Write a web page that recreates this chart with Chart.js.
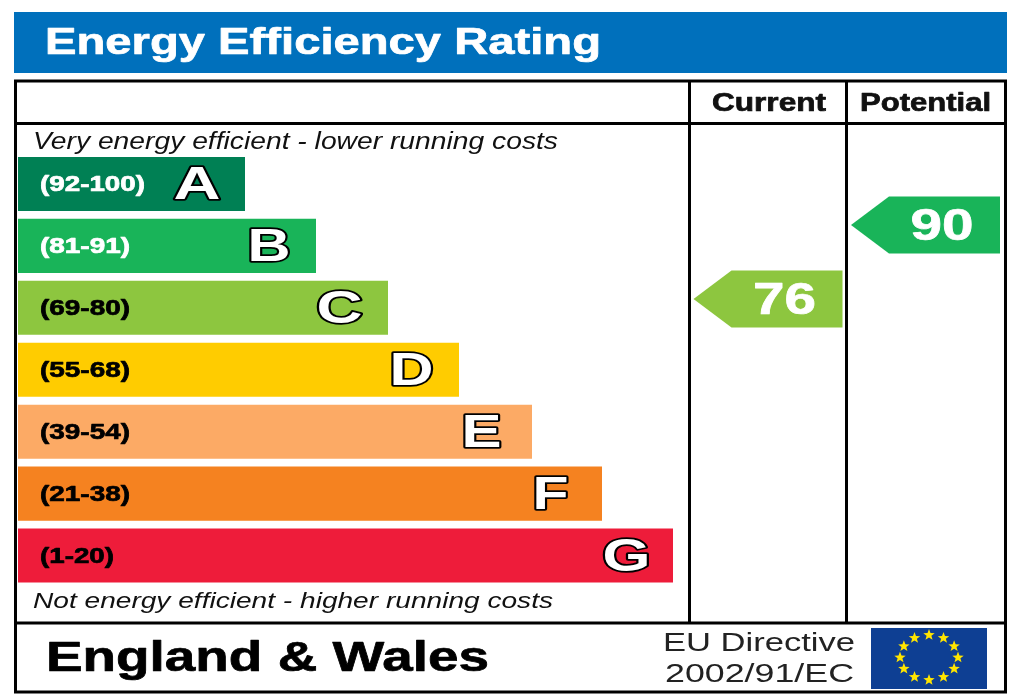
<!DOCTYPE html>
<html>
<head>
<meta charset="utf-8">
<style>
html,body{margin:0;padding:0;background:#fff;width:1024px;height:700px;overflow:hidden}
canvas{display:block;filter:blur(0.5px)}
</style>
<script src="https://cdn.jsdelivr.net/npm/chart.js@4/dist/chart.umd.min.js"></script>
</head>
<body>
<canvas id="c" width="1024" height="700" style="width:1024px;height:700px"></canvas>
<script>
const bandLetters = ['A','B','C','D','E','F','G'];
const bandRanges = ['(92-100)','(81-91)','(69-80)','(55-68)','(39-54)','(21-38)','(1-20)'];
const bandLengths = [227,298,370,441,514,584,655];
const bandColors = ['#008054','#19B459','#8DC63F','#FFCC00','#FCAA65','#F58220','#EE1C3A'];
const bandLabelColors = ['#fff','#fff','#000','#000','#000','#000','#000'];
const columnLabels = ['Current','Potential'];
const currentRating = 76;
const potentialRating = 90;
const titleText = 'Energy Efficiency Rating';
const topNote = 'Very energy efficient - lower running costs';
const bottomNote = 'Not energy efficient - higher running costs';
const regionText = 'England & Wales';
const directiveLines = ['EU Directive','2002/91/EC'];

const SANS = '"Liberation Sans", Arial, sans-serif';
const COLUMN_CENTERS = [750, 907.5];
function fit(ctx, text, x0, x1, base, font, color){
  ctx.save();
  ctx.font = font; ctx.fillStyle = color; ctx.textAlign='left'; ctx.textBaseline='alphabetic';
  const w = ctx.measureText(text).width;
  ctx.translate(x0, base); ctx.scale((x1-x0)/w, 1);
  ctx.fillText(text, 0, 0);
  if(font.startsWith('bold')){ ctx.strokeStyle=color; ctx.lineWidth=0.7; ctx.lineJoin='round'; ctx.strokeText(text,0,0); }
  ctx.restore();
}
function star(ctx,cx,cy,r){
  ctx.beginPath();
  for(let i=0;i<10;i++){
    const a=-Math.PI/2+i*Math.PI/5, q=i%2?r*0.42:r;
    ctx.lineTo(cx+q*Math.cos(a),cy+q*Math.sin(a));
  }
  ctx.closePath(); ctx.fill();
}
const letterOffset = [25,26,26,26,31,34,23];
const letterWidth = [46,42,45,43,39,35,47];
const rangeWidth = [105,90,90,90,90,90,74];

const epcPlugin = {
  id:'epc',
  beforeDatasetsDraw(chart){
    const ctx = chart.ctx;
    ctx.save();
    ctx.fillStyle='#fff'; ctx.fillRect(0,0,1024,700);
    ctx.fillStyle='#0070BC'; ctx.fillRect(14,12,993,61);
    ctx.strokeStyle='#000'; ctx.lineWidth=3;
    ctx.strokeRect(15.5,81,990,611);
    ctx.beginPath();
    ctx.moveTo(15,123.5);ctx.lineTo(1005,123.5);
    ctx.moveTo(15,623);ctx.lineTo(1005,623);
    ctx.moveTo(689.5,81);ctx.lineTo(689.5,623);
    ctx.moveTo(846.5,81);ctx.lineTo(846.5,623);
    ctx.stroke();
    ctx.restore();
  },
  afterDatasetsDraw(chart){
    const ctx = chart.ctx;
    fit(ctx,titleText,45,601,54,'bold 37px '+SANS,'#fff');
    fit(ctx,columnLabels[0],712,826,111,'bold 25px '+SANS,'#111');
    fit(ctx,columnLabels[1],860,991,111,'bold 25px '+SANS,'#111');
    fit(ctx,topNote,33,558,149,'italic 23px '+SANS,'#111');
    fit(ctx,bottomNote,33,553,608,'italic 22px '+SANS,'#111');
    fit(ctx,regionText,46,489,671,'bold 43px '+SANS,'#000');
    fit(ctx,directiveLines[0],663,855,651,'26px '+SANS,'#222');
    fit(ctx,directiveLines[1],665,854,682,'26px '+SANS,'#222');

    // flag
    ctx.save();
    ctx.fillStyle='#0E3F93'; ctx.fillRect(871,628,116,61);
    ctx.fillStyle='#FFE500';
    for(let i=0;i<12;i++){
      const a=i*Math.PI/6;
      star(ctx,929+29*Math.sin(a),657.5-22.5*Math.cos(a),6);
    }
    ctx.restore();

    // band labels
    const bars = chart.getDatasetMeta(0).data;
    bars.forEach((b,i)=>{
      fit(ctx,bandRanges[i],40,40+rangeWidth[i],b.y+7,'bold 22px '+SANS,bandLabelColors[i]);
      ctx.save();
      ctx.font='bold 47px '+SANS;
      const t=bandLetters[i], w=ctx.measureText(t).width;
      const x1=b.x-letterOffset[i], x0=x1-letterWidth[i]-0.5;
      ctx.translate(x0,b.y+15.5); ctx.scale((letterWidth[i]+1)/w,1);
      ctx.lineJoin='round'; ctx.lineWidth=3.5; ctx.strokeStyle='#000'; ctx.strokeText(t,0,0);
      ctx.fillStyle='#fff'; ctx.fillText(t,0,0);
      ctx.restore();
    });

    // rating arrows
    [1,2].forEach((d,k)=>{
      const p = chart.getDatasetMeta(d).data[0];
      const hw=74.5, hh=28.5, sh=38;
      const left=p.x-hw, right=p.x+hw;
      ctx.save();
      ctx.fillStyle = chart.data.datasets[d].backgroundColor;
      ctx.beginPath();
      ctx.moveTo(left,p.y);ctx.lineTo(left+sh,p.y-hh);ctx.lineTo(right,p.y-hh);
      ctx.lineTo(right,p.y+hh);ctx.lineTo(left+sh,p.y+hh);ctx.closePath();ctx.fill();
      ctx.restore();
      const val=String(chart.data.datasets[d].data[0].y);
      fit(ctx,val,p.x-15,p.x+48,p.y+15,'bold 45px '+SANS,'#fff');
    });
  }
};

new Chart(document.getElementById('c'),{
  type:'bar',
  plugins:[epcPlugin],
  data:{
    labels:bandLetters,
    datasets:[
      {type:'bar',label:'Band',indexAxis:'y',data:bandLengths,backgroundColor:bandColors,
       xAxisID:'x',yAxisID:'y',barPercentage:0.873,categoryPercentage:1,borderWidth:0},
      {type:'scatter',label:columnLabels[0],data:[{x:COLUMN_CENTERS[0],y:currentRating}],backgroundColor:bandColors[2],
       xAxisID:'x',yAxisID:'rating',pointRadius:0},
      {type:'scatter',label:columnLabels[1],data:[{x:COLUMN_CENTERS[1],y:potentialRating}],backgroundColor:bandColors[1],
       xAxisID:'x',yAxisID:'rating',pointRadius:0}
    ]
  },
  options:{
    responsive:false,animation:false,devicePixelRatio:1,
    layout:{padding:{left:18,top:153,right:18,bottom:113.5},autoPadding:false},
    plugins:{legend:{display:false},tooltip:{enabled:false},title:{display:false}},
    scales:{
      x:{type:'linear',min:0,max:988,offset:false,display:false},
      y:{type:'category',offset:true,display:false},
      rating:{type:'linear',axis:'y',min:21.6,max:103.6,offset:false,display:false}
    }
  }
});
</script>
</body>
</html>
